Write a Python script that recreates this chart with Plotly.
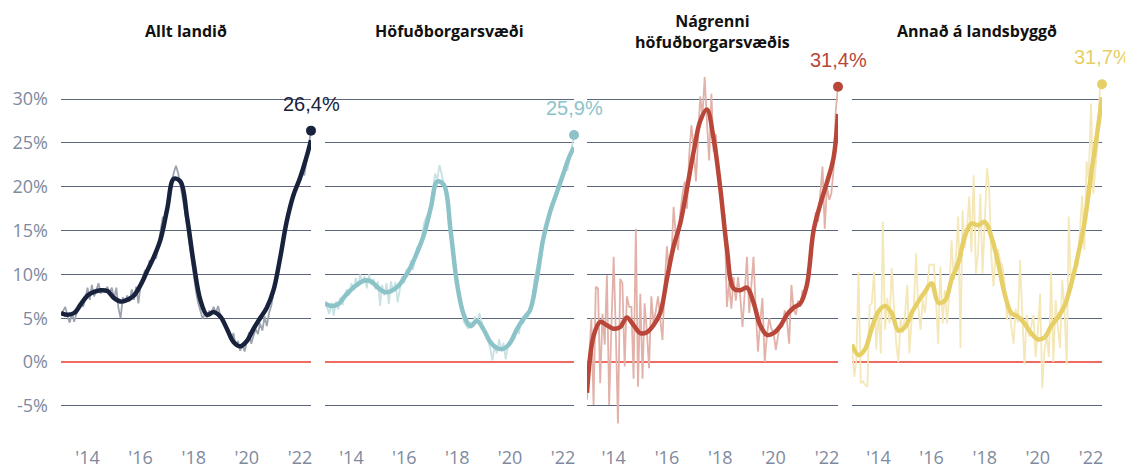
import pandas as pd
import plotly.graph_objects as go

W, H = 1133, 468
PAGE_OFFSET = 8  # the html page body adds an 8px margin around the figure

# ── Data: 12-month change in house prices (%) ────────────────────────────────
TITLES = [
    "Allt landið",
    "Höfuðborgarsvæði",
    "Nágrenni<br>höfuðborgarsvæðis",
    "Annað á landsbyggð",
]
END_LABELS = ["26,4%", "25,9%", "31,4%", "31,7%"]

MONTHS = pd.date_range("2013-01-01", "2022-06-01", freq="MS")
SMOOTH_DATES = list(pd.date_range("2013-01-01", "2022-04-01", freq="QS")) + [
    pd.Timestamp("2022-06-01")
]

X_TICK_DATES = ["2014-01-01", "2016-01-01", "2018-01-01", "2020-01-01", "2022-01-01"]
X_TICK_TEXT = ["'14", "'16", "'18", "'20", "'22"]
Y_TICKS = [-5, 0, 5, 10, 15, 20, 25, 30]
Y_TICK_TEXT = ["-5%", "0%", "5%", "10%", "15%", "20%", "25%", "30%"]

# monthly values (thin lines)
allt_monthly = [
    5.4, 5.9, 6.3, 5.2, 4.5, 5.6, 4.6, 5.5, 6.1, 6.8, 6.3, 7.2,
    8.5, 7.1, 8.8, 7.5, 8.2, 9.0, 7.8, 8.4, 8.0, 8.6, 7.9, 8.5,
    7.2, 8.5, 6.2, 5.0, 7.4, 6.8, 7.6, 6.9, 8.3, 7.1, 8.6, 6.7,
    8.8, 9.6, 10.5, 10.0, 11.6, 11.2, 12.2, 11.8, 13.5, 14.8, 16.6, 15.3,
    17.8, 19.2, 20.5, 21.6, 22.4, 21.5, 20.2, 18.8, 17.2, 15.4, 13.4, 11.4,
    9.6, 8.0, 6.8, 5.8, 5.0, 5.4, 5.1, 5.8, 5.5, 6.3, 5.6, 6.4,
    5.3, 4.8, 4.4, 3.8, 3.2, 2.6, 3.3, 1.8, 2.4, 1.3, 2.0, 1.2,
    2.4, 3.4, 2.1, 2.9, 3.8, 3.2, 4.4, 3.6, 5.2, 4.1, 5.6, 6.4,
    7.8, 9.0, 10.5, 12.0, 13.6, 15.0, 16.0, 16.8, 18.4, 18.9, 19.5, 20.4,
    21.2, 22.0, 21.3, 23.0, 24.5, 26.4,
]
hofud_monthly = [
    7.0, 6.2, 5.5, 6.8, 5.3, 6.9, 6.0, 7.4, 6.5, 7.8, 8.3, 7.6,
    9.0, 8.2, 9.6, 8.6, 10.0, 9.1, 9.8, 8.4, 10.0, 8.8, 9.5, 8.3,
    9.2, 6.4, 8.8, 7.6, 9.0, 6.6, 9.2, 8.0, 9.1, 6.8, 8.6, 9.8,
    9.0, 10.6, 10.0, 11.6, 10.5, 12.3, 13.2, 12.8, 14.4, 15.9, 16.6, 17.0,
    18.0, 19.7, 21.5, 20.8, 22.5, 21.4, 20.2, 19.0, 17.2, 15.0, 13.0, 11.0,
    9.0, 7.2, 5.8, 4.6, 4.2, 3.8, 4.6, 4.0, 5.2, 4.4, 5.6, 4.6,
    3.8, 3.2, 2.6, 1.6, 0.2, 1.8, 1.0, 2.6, 1.4, 2.2, 0.3, 1.8,
    2.4, 3.0, 2.6, 3.9, 3.2, 4.8, 4.4, 5.6, 5.0, 6.3, 7.2, 9.4,
    10.6, 11.8, 12.4, 13.8, 14.6, 15.8, 16.6, 17.4, 18.4, 18.8, 20.0, 20.6,
    21.4, 22.6, 21.8, 23.2, 24.6, 25.9,
]
nagrenni_monthly = [
    -4.3, 0.5, 5.0, -4.9, 8.6, 8.4, -2.4, 5.5, 2.0, 9.9, -4.9, 4.0,
    12.0, 3.0, -7.0, 9.5, 9.0, -0.5, 7.5, 6.3, 6.3, -1.9, 15.2, -2.8,
    7.8, -1.9, 6.7, 3.5, -0.7, 7.5, 4.4, 5.8, 7.5, 5.0, 2.5, 9.0,
    13.2, 10.0, 11.6, 17.7, 14.5, 12.8, 17.0, 19.2, 20.6, 17.5, 23.6, 27.0,
    24.5, 20.6, 26.0, 30.3, 28.0, 32.5, 27.5, 23.0, 30.6, 24.0, 26.0, 21.0,
    20.5, 17.5, 16.8, 6.3, 9.0, 6.1, 9.7, 7.0, 9.7, 7.5, 4.0, 8.5,
    12.0, 5.6, 9.0, 12.0, 6.0, 1.2, 4.5, 7.3, 0.0, 3.0, 5.0, 3.8,
    3.3, 1.4, 3.0, 4.4, 4.0, 5.9, 4.8, 2.1, 8.8, 6.0, 5.4, 7.0,
    6.3, 8.2, 7.5, 9.0, 10.5, 13.2, 15.0, 17.1, 16.0, 19.6, 22.3, 15.2,
    20.0, 18.5, 19.2, 21.9, 28.7, 31.4,
]
landsbyggd_monthly = [
    1.9, -1.7, 0.2, 10.3, -2.4, -2.2, -2.6, -2.8, 6.5, 6.7, 10.3, 1.4,
    5.9, 1.0, 16.0, 3.7, 7.3, 4.4, 10.7, 6.0, 2.1, 0.0, 5.0, 3.3,
    5.5, 8.8, 1.0, 4.8, 6.0, 12.4, 6.3, 3.7, 7.1, 5.6, 8.5, 11.1,
    11.1, 11.1, 7.1, 2.1, 10.9, 4.4, 8.2, 4.4, 8.0, 13.9, 9.4, 12.0,
    16.6, 1.6, 17.3, 13.0, 15.2, 18.9, 12.5, 21.3, 10.1, 12.4, 19.2, 10.1,
    16.0, 22.1, 20.0, 12.0, 8.6, 12.8, 12.8, 11.5, 10.9, 9.0, 4.8, 6.5,
    4.0, 2.1, 6.1, 4.5, 11.6, 5.0, -0.3, 5.4, 2.9, 4.0, 5.4, 0.6,
    3.5, 7.8, -3.0, 1.4, 3.0, 0.6, 10.3, 0.0, 7.1, 4.0, 1.6, 9.4,
    6.0, -0.3, 16.6, 8.2, 10.0, 11.3, 10.9, 14.5, 19.0, 12.8, 22.9, 20.8,
    29.5, 19.2, 22.0, 24.9, 31.0, 31.7,
]

# smoothed trend (thick lines), quarterly
allt_trend = [
    5.6, 5.4, 5.6, 6.6, 7.6, 8.0, 8.2, 8.1, 7.3, 6.9, 7.1, 7.6, 8.8,
    10.4, 12.0, 14.0, 17.5, 20.9, 20.6, 16.5, 11.2, 7.1, 5.4, 5.7, 5.2,
    3.8, 2.3, 1.8, 2.4, 3.8, 5.0, 6.2, 8.2, 11.8, 16.0, 19.0, 21.0, 23.4, 25.3,
]
hofud_trend = [
    6.7, 6.4, 6.6, 7.5, 8.3, 8.9, 9.3, 9.2, 8.5, 8.0, 8.1, 8.6, 9.6,
    10.9, 12.6, 14.6, 17.6, 20.6, 20.2, 15.0, 8.8, 5.4, 4.1, 4.7, 3.7,
    2.3, 1.6, 1.5, 2.2, 3.7, 4.9, 5.9, 9.4, 14.0, 17.0, 19.2, 21.4, 23.5, 24.5,
]
nagrenni_trend = [
    -3.5, 3.0, 4.6, 4.2, 3.8, 4.0, 5.1, 4.2, 3.3, 3.4, 4.2, 5.6, 9.5,
    13.2, 15.8, 19.8, 24.0, 27.5, 28.8, 25.5, 19.8, 13.0, 8.4, 8.2, 8.5,
    6.8, 4.2, 3.1, 3.3, 4.1, 5.4, 6.2, 6.7, 8.8, 15.0, 18.0, 20.5, 23.3, 28.3,
]
landsbyggd_trend = [
    2.0, 0.8, 1.5, 3.9, 5.8, 6.4, 5.6, 3.6, 4.0, 5.6, 6.9, 8.0, 9.0,
    6.8, 7.0, 9.4, 11.3, 14.3, 15.8, 15.6, 16.0, 14.3, 11.4, 7.8, 5.6,
    5.2, 4.4, 3.3, 2.6, 2.8, 4.1, 5.1, 6.4, 8.8, 12.0, 15.8, 21.3, 26.4, 30.2,
]

MONTHLY = [allt_monthly, hofud_monthly, nagrenni_monthly, landsbyggd_monthly]
TREND = [allt_trend, hofud_trend, nagrenni_trend, landsbyggd_trend]

# ── Style ────────────────────────────────────────────────────────────────────
THICK_COLORS = ["#18223c", "#8cc3c9", "#b8473a", "#e5cf66"]
THIN_COLORS = ["#9ea3b0", "#c8e2e4", "#e2b1a9", "#f4e7b8"]
GRID_COLOR = "#5a667b"
ZERO_COLOR = "#ee6a62"
TICK_FONT = dict(family="Open Sans, sans-serif", size=18, color="#808a9e")

# panel edges in screen pixels (reference), shifted by the page margin
PANEL_LEFT = [x - PAGE_OFFSET for x in (61, 325, 587, 852)]
PANEL_RIGHT = [x - PAGE_OFFSET for x in (311, 574, 838, 1102)]
PLOT_TOP, PLOT_BOTTOM = 64 - PAGE_OFFSET, 441 - PAGE_OFFSET
TITLE_Y = 31 - PAGE_OFFSET

fig = go.Figure()

for i in range(4):
    ax = "" if i == 0 else str(i + 1)
    fig.add_trace(go.Scatter(
        x=MONTHS, y=MONTHLY[i], mode="lines",
        line=dict(color=THIN_COLORS[i], width=1.8),
        xaxis="x" + ax, yaxis="y" + ax, cliponaxis=False, hoverinfo="skip",
    ))
    fig.add_trace(go.Scatter(
        x=SMOOTH_DATES, y=TREND[i], mode="lines",
        line=dict(color=THICK_COLORS[i], width=4.5, shape="spline", smoothing=1.0),
        xaxis="x" + ax, yaxis="y" + ax, cliponaxis=False,
    ))
    fig.add_trace(go.Scatter(
        x=[MONTHS[-1]], y=[MONTHLY[i][-1]], mode="markers",
        marker=dict(color=THICK_COLORS[i], size=10),
        xaxis="x" + ax, yaxis="y" + ax, cliponaxis=False,
    ))
    fig.add_annotation(
        x=MONTHS[-1], y=MONTHLY[i][-1], xref="x" + ax, yref="y" + ax,
        text=END_LABELS[i], showarrow=False, yshift=27,
        font=dict(family="Liberation Sans, Arial, sans-serif", size=20, color=THICK_COLORS[i]),
    )
    fig.add_annotation(
        x=(PANEL_LEFT[i] + PANEL_RIGHT[i]) / 2 / W, y=1 - TITLE_Y / H,
        xref="paper", yref="paper", text="<b>" + TITLES[i] + "</b>",
        showarrow=False, xanchor="center", yanchor="middle",
        font=dict(family="Open Sans, sans-serif", size=16, color="#111111"),
    )
    fig.update_layout(**{
        "xaxis" + ax: dict(
            domain=[PANEL_LEFT[i] / W, PANEL_RIGHT[i] / W],
            range=[MONTHS[0], MONTHS[-1]],
            tickvals=X_TICK_DATES, ticktext=X_TICK_TEXT,
            showgrid=False, zeroline=False, showline=False, ticks="",
            tickfont=TICK_FONT, ticklabelstandoff=4,
            anchor="y" + ax, automargin=False, fixedrange=True,
        ),
        "yaxis" + ax: dict(
            domain=[1 - PLOT_BOTTOM / H, 1 - PLOT_TOP / H],
            range=[-9, 34],
            tickvals=Y_TICKS, ticktext=Y_TICK_TEXT,
            showgrid=True, gridcolor=GRID_COLOR, gridwidth=1,
            zeroline=True, zerolinecolor=ZERO_COLOR, zerolinewidth=1.5,
            showline=False, ticks="", showticklabels=(i == 0),
            tickfont=TICK_FONT, ticklabelstandoff=12,
            anchor="x" + ax, automargin=False, fixedrange=True,
        ),
    })

fig.update_layout(
    width=W, height=H,
    margin=dict(l=0, r=0, t=0, b=0),
    paper_bgcolor="#ffffff", plot_bgcolor="#ffffff",
    showlegend=False,
)

fig.write_html("out.html")
